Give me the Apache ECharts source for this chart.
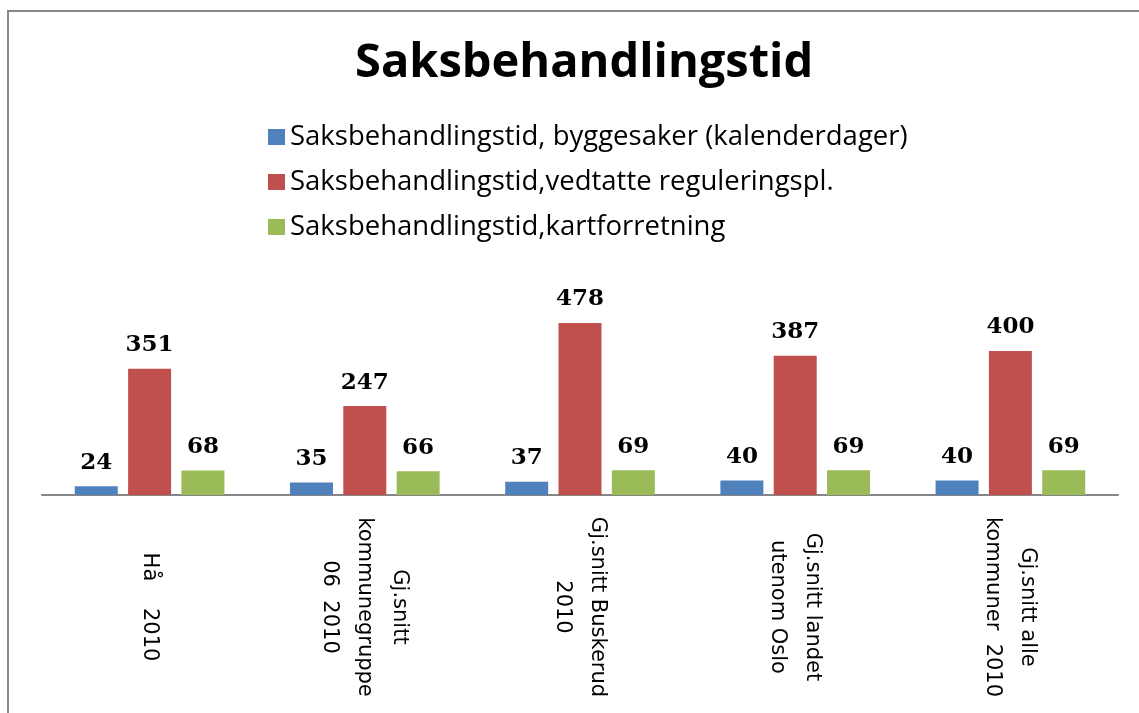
<!DOCTYPE html>
<html>
<head>
<meta charset="utf-8">
<script src="https://cdn.jsdelivr.net/npm/echarts@6/dist/echarts.min.js"></script>
<style>
  html, body { margin: 0; padding: 0; background: #fff; }
  #chart { width: 1139px; height: 713px; }
</style>
</head>
<body>
<div id="chart"></div>
<script>
const categories = [
  'Hå    2010',
  'Gj.snitt\nkommunegruppe\n06  2010',
  'Gj.snitt Buskerud\n2010',
  'Gj.snitt landet\nutenom Oslo',
  'Gj.snitt alle\nkommuner  2010'
]
const seriesNames = [
  'Saksbehandlingstid, byggesaker (kalenderdager)',
  'Saksbehandlingstid,vedtatte reguleringspl.',
  'Saksbehandlingstid,kartforretning'
]
const byggesaker = [24, 35, 37, 40, 40]
const regulering = [351, 247, 478, 387, 400]
const kartforretning = [68, 66, 69, 69, 69]
const colors = ['#4F81BD', '#C0504D', '#9BBB59']

const chart = echarts.init(document.getElementById('chart'))

function barSeries(name, data, color) {
  return {
    name: name,
    type: 'bar',
    data: data,
    barWidth: 43,
    barGap: '24%',
    itemStyle: { color: color },
    label: {
      show: true,
      position: 'top',
      distance: 12,
      color: '#000',
      fontFamily: 'DejaVu Serif',
      fontWeight: 'bold',
      fontSize: 23
    }
  }
}

const option = {
  animation: false,
  backgroundColor: '#fff',
  color: colors,
  title: {
    text: 'Saksbehandlingstid',
    left: 350,
    top: 35,
    textStyle: {
      fontFamily: 'Open Sans',
      fontWeight: 'bold',
      fontSize: 47,
      color: '#000'
    }
  },
  legend: {
    orient: 'vertical',
    left: 263,
    top: 118,
    itemWidth: 17,
    itemHeight: 16,
    itemGap: 17,
    icon: 'rect',
    textStyle: {
      fontFamily: 'Open Sans',
      fontSize: 27.5,
      color: '#000'
    },
    data: seriesNames
  },
  grid: {
    left: 42,
    right: 21,
    top: 279,
    bottom: 713 - 495,
    containLabel: false
  },
  xAxis: {
    type: 'category',
    data: categories,
    axisLine: { lineStyle: { color: '#868686', width: 2 } },
    axisTick: { show: false },
    axisLabel: {
      rotate: -90,
      align: 'center',
      verticalAlign: 'middle',
      margin: 112,
      interval: 0,
      color: '#000',
      fontFamily: 'DejaVu Sans',
      fontSize: 21,
      lineHeight: 35
    }
  },
  yAxis: {
    type: 'value',
    min: 0,
    max: 600,
    show: false,
    splitLine: { show: false }
  },
  graphic: [
    {
      type: 'rect',
      shape: { x: 8, y: 11, width: 1200, height: 800 },
      style: { fill: 'none', stroke: '#888', lineWidth: 2 },
      silent: true
    }
  ],
  series: [
    barSeries(seriesNames[0], byggesaker, colors[0]),
    barSeries(seriesNames[1], regulering, colors[1]),
    barSeries(seriesNames[2], kartforretning, colors[2])
  ]
}

chart.setOption(option)
</script>
</body>
</html>
